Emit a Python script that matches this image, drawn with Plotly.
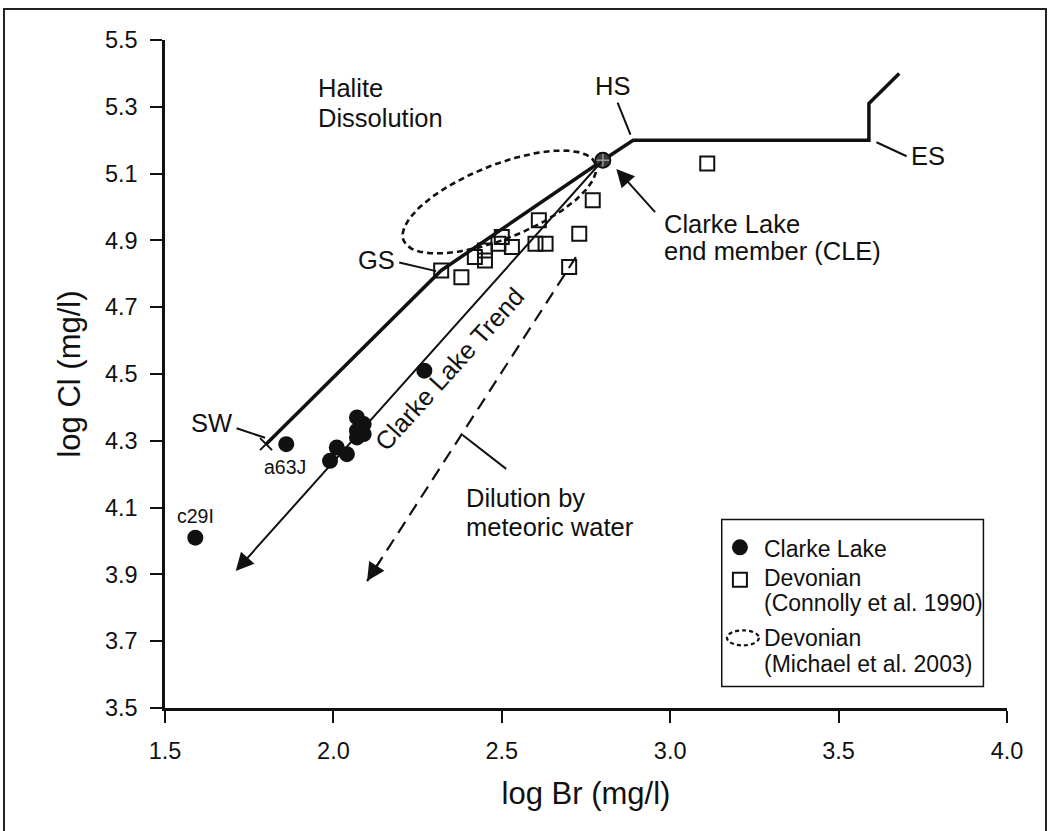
import numpy as np
import plotly.graph_objects as go

FONT = "Liberation Sans, Arial, Helvetica, sans-serif"
INK = "#111111"

# Clarke Lake brines (log Br, log Cl)
clarke_br = [1.59, 1.86, 1.99, 2.01, 2.04, 2.07, 2.07, 2.09, 2.07, 2.09, 2.27]
clarke_cl = [4.01, 4.29, 4.24, 4.28, 4.26, 4.33, 4.37, 4.35, 4.31, 4.32, 4.51]

# Devonian formation waters (Connolly et al. 1990)
devonian_br = [2.32, 2.38, 2.42, 2.45, 2.45, 2.49, 2.50, 2.53, 2.60, 2.61, 2.63, 2.70, 2.73, 2.77, 3.11]
devonian_cl = [4.81, 4.79, 4.85, 4.84, 4.87, 4.89, 4.91, 4.88, 4.89, 4.96, 4.89, 4.82, 4.92, 5.02, 5.13]

# Clarke Lake end member (CLE)
cle_br = [2.80]
cle_cl = [5.14]

# Seawater evaporation path: SW, GS, CLE, HS, ES and beyond
evap_br = [1.80, 2.32, 2.80, 2.89, 3.59, 3.59, 3.68]
evap_cl = [4.29, 4.81, 5.14, 5.20, 5.20, 5.31, 5.40]

# Clarke Lake trend (from CLE) and meteoric dilution trend end points
trend_br = [2.80, 1.71]
trend_cl = [5.14, 3.91]
dilution_br = [2.72, 2.10]
dilution_cl = [4.85, 3.88]

# Devonian field of Michael et al. (2003): centre, semi-axes, tilt
field_center = (2.493, 5.015)
field_axes = (0.307, 0.110)
field_tilt_deg = 22.1

x_ticks = [1.5, 2.0, 2.5, 3.0, 3.5, 4.0]
y_ticks = [3.5, 3.7, 3.9, 4.1, 4.3, 4.5, 4.7, 4.9, 5.1, 5.3, 5.5]

fig = go.Figure()

# seawater evaporation path
fig.add_trace(go.Scatter(x=evap_br, y=evap_cl, mode="lines",
                         line=dict(color=INK, width=3.5), hoverinfo="skip"))
fig.add_trace(go.Scatter(x=evap_br[:1], y=evap_cl[:1], mode="markers",
                         marker=dict(symbol="x-thin", size=12, line=dict(color=INK, width=2)),
                         hoverinfo="skip"))

# Michael et al. (2003) field outline
t = np.linspace(0, 2 * np.pi, 240)
th = np.deg2rad(field_tilt_deg)
a, b = field_axes
ex = field_center[0] + a * np.cos(t) * np.cos(th) - b * np.sin(t) * np.sin(th)
ey = field_center[1] + a * np.cos(t) * np.sin(th) + b * np.sin(t) * np.cos(th)
fig.add_trace(go.Scatter(x=ex, y=ey, mode="lines",
                         line=dict(color=INK, width=2.6, dash="6px,4px"), hoverinfo="skip"))

# meteoric dilution trend (dashed shaft; head added as annotation)
fig.add_trace(go.Scatter(x=dilution_br, y=dilution_cl, mode="lines",
                         line=dict(color=INK, width=2.2, dash="13px,8px"), hoverinfo="skip"))

# Devonian samples
fig.add_trace(go.Scatter(x=devonian_br, y=devonian_cl, mode="markers",
                         marker=dict(symbol="square-open", size=14, color=INK,
                                     line=dict(width=2, color=INK)), hoverinfo="skip"))

# Clarke Lake samples
fig.add_trace(go.Scatter(x=clarke_br, y=clarke_cl, mode="markers",
                         marker=dict(symbol="circle", size=16, color=INK, line=dict(width=0)),
                         hoverinfo="skip"))

# end member
fig.add_trace(go.Scatter(x=cle_br, y=cle_cl, mode="markers",
                         marker=dict(symbol="circle-cross", size=15, color="#3a3a3a",
                                     line=dict(width=1.5, color="#9a9a9a")), hoverinfo="skip"))
fig.add_trace(go.Scatter(x=cle_br, y=cle_cl, mode="markers",
                         marker=dict(symbol="circle-open", size=15, color=INK,
                                     line=dict(width=2, color=INK)), hoverinfo="skip"))

ann = []


def text(x, y, s, size=25.5, xanchor="center", angle=0):
    ann.append(dict(x=x, y=y, xref="x", yref="y", text=s, showarrow=False,
                    xanchor=xanchor, yanchor="middle", textangle=angle,
                    font=dict(family=FONT, size=size, color=INK)))


def leader(x0, y0, x1, y1, head=False):
    ann.append(dict(x=x1, y=y1, ax=x0, ay=y0, xref="x", yref="y", axref="x", ayref="y",
                    text="", showarrow=True, arrowhead=2 if head else 0,
                    arrowsize=1.8, arrowwidth=2, arrowcolor=INK, standoff=0, startstandoff=0))


# trend arrows
leader(trend_br[0], trend_cl[0], trend_br[1], trend_cl[1], head=True)
leader(dilution_br[1] + 0.04, dilution_cl[1] + 0.063, dilution_br[1], dilution_cl[1], head=True)

# labels on the chart
text(1.948, 5.356, "Halite", xanchor="left")
text(1.948, 5.266, "Dissolution", xanchor="left")
text(2.829, 5.361, "HS")
leader(2.842, 5.317, 2.882, 5.217)
text(3.766, 5.154, "ES")
leader(3.608, 5.196, 3.702, 5.152)
text(2.127, 4.840, "GS")
leader(2.191, 4.835, 2.305, 4.808)
text(1.637, 4.352, "SW")
leader(1.708, 4.339, 1.797, 4.309)
text(1.855, 4.221, "a63J", size=19.5)
text(1.592, 4.076, "c29I", size=19.5)
text(2.977, 4.948, "Clarke Lake", xanchor="left")
text(2.977, 4.867, "end member (CLE)", xanchor="left")
leader(2.959, 4.980, 2.840, 5.114, head=True)
text(2.344, 4.516, "Clarke Lake Trend", angle=-48)
text(2.389, 4.130, "Dilution by", xanchor="left")
text(2.389, 4.042, "meteoric water", xanchor="left")
leader(2.379, 4.321, 2.513, 4.216)

# legend
lx_icon, lx_text = 3.207, 3.272
text(lx_text, 3.976, "Clarke Lake", size=23, xanchor="left")
text(lx_text, 3.888, "Devonian", size=23, xanchor="left")
text(lx_text, 3.813, "(Connolly et al. 1990)", size=23, xanchor="left")
text(lx_text, 3.711, "Devonian", size=23, xanchor="left")
text(lx_text, 3.633, "(Michael et al. 2003)", size=23, xanchor="left")

shapes = [
    dict(type="rect", xref="x", yref="y", x0=3.153, x1=3.93, y0=3.564, y1=4.064,
         line=dict(color=INK, width=1.5), fillcolor="white", layer="below"),
    dict(type="circle", xref="x", yref="y", xsizemode="pixel", ysizemode="pixel",
         xanchor=lx_icon, yanchor=3.981, x0=-8, x1=8, y0=-8, y1=8,
         fillcolor=INK, line=dict(width=0)),
    dict(type="rect", xref="x", yref="y", xsizemode="pixel", ysizemode="pixel",
         xanchor=lx_icon, yanchor=3.884, x0=-7, x1=7, y0=-7, y1=7,
         line=dict(color=INK, width=2)),
    dict(type="circle", xref="x", yref="y", xsizemode="pixel", ysizemode="pixel",
         xanchor=3.216, yanchor=3.710, x0=-16, x1=16, y0=-7.5, y1=7.5,
         line=dict(color=INK, width=2.2, dash="4px,3px")),
    # outer frame
    dict(type="rect", xref="paper", yref="paper", x0=-0.1912, x1=1.0463, y0=-0.25, y1=1.0464,
         line=dict(color="#222222", width=2)),
]

axis_common = dict(showline=True, linecolor=INK, linewidth=2.5, ticks="outside",
                   tickwidth=2, tickcolor=INK, ticklen=12, showgrid=False, zeroline=False,
                   tickfont=dict(family=FONT, size=23.5, color=INK), tickformat=".1f")

fig.update_layout(
    width=1050, height=831,
    margin=dict(l=165, r=43, t=40, b=123),
    paper_bgcolor="white", plot_bgcolor="white",
    showlegend=False,
    annotations=ann,
    shapes=shapes,
    xaxis=dict(range=[1.5, 4.0], tickvals=x_ticks, ticklabelstandoff=8,
               title=dict(text="log Br (mg/l)", standoff=20,
                          font=dict(family=FONT, size=31, color=INK)),
               **axis_common),
    yaxis=dict(range=[3.5, 5.5], tickvals=y_ticks, ticklabelstandoff=8,
               title=dict(text="log Cl (mg/l)", standoff=16,
                          font=dict(family=FONT, size=31, color=INK)),
               **axis_common),
)

fig.write_html("out.html")
